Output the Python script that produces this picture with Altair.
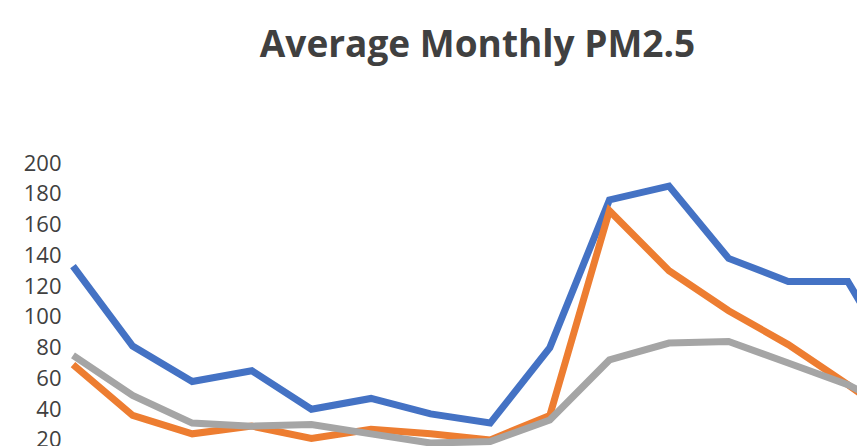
import altair as alt
import pandas as pd

# Categories (x axis is below the visible area in the reference)
months = ["M1", "M2", "M3", "M4", "M5", "M6", "M7", "M8",
          "M9", "M10", "M11", "M12", "M13", "M14", "M15"]

series_a = [133, 81, 58, 65, 40, 47, 37, 31, 80, 176, 185, 138, 123, 123, 58]
series_b = [69, 36, 24, 29, 21, 27, 24, 20, 36, 169, 130, 104, 82, 56, 28]
series_c = [75, 49, 31, 29, 30, 24, 18, 19, 33, 72, 83, 84, 70, 56, 36]

names = ["Series1", "Series2", "Series3"]
colors = ["#4472C4", "#ED7D31", "#A5A5A5"]
y_ticks = [20, 40, 60, 80, 100, 120, 140, 160, 180, 200]

rows = []
for name, vals in zip(names, [series_a, series_b, series_c]):
    for i, (m, v) in enumerate(zip(months, vals)):
        rows.append({"idx": i, "month": m, "series": name, "value": v})
df = pd.DataFrame(rows)

chart = (
    alt.Chart(df)
    .mark_line(strokeWidth=7, clip=True, strokeJoin="miter")
    .encode(
        x=alt.X("idx:Q", scale=alt.Scale(domain=[-0.0839, 13.154], nice=False, zero=False), axis=None),
        y=alt.Y(
            "value:Q",
            scale=alt.Scale(domain=[16.1, 208.45], nice=False, zero=False),
            axis=alt.Axis(
                values=y_ticks,
                title=None,
                domain=False,
                ticks=False,
                grid=False,
                labelFont="Open Sans",
                labelFontSize=22,
                labelColor="#404040",
                labelPadding=7,
            ),
        ),
        color=alt.Color("series:N", scale=alt.Scale(domain=names, range=colors), legend=None),
        detail="series:N",
    )
    .properties(
        width=789,
        height=296,
        autosize=alt.AutoSizeParams(type="none"),
        padding={"left": 60, "top": 142, "right": 0, "bottom": 0},
        title=alt.TitleParams(
            "Average Monthly PM2.5",
            font="Open Sans",
            fontSize=37,
            fontWeight="bold",
            color="#404040",
            anchor="middle",
            baseline="alphabetic",
            offset=56,
            dx=15,
        ),
    )
    .configure_view(stroke=None)
)

chart.save("out.html", embed_options={"renderer": "svg", "actions": False})
